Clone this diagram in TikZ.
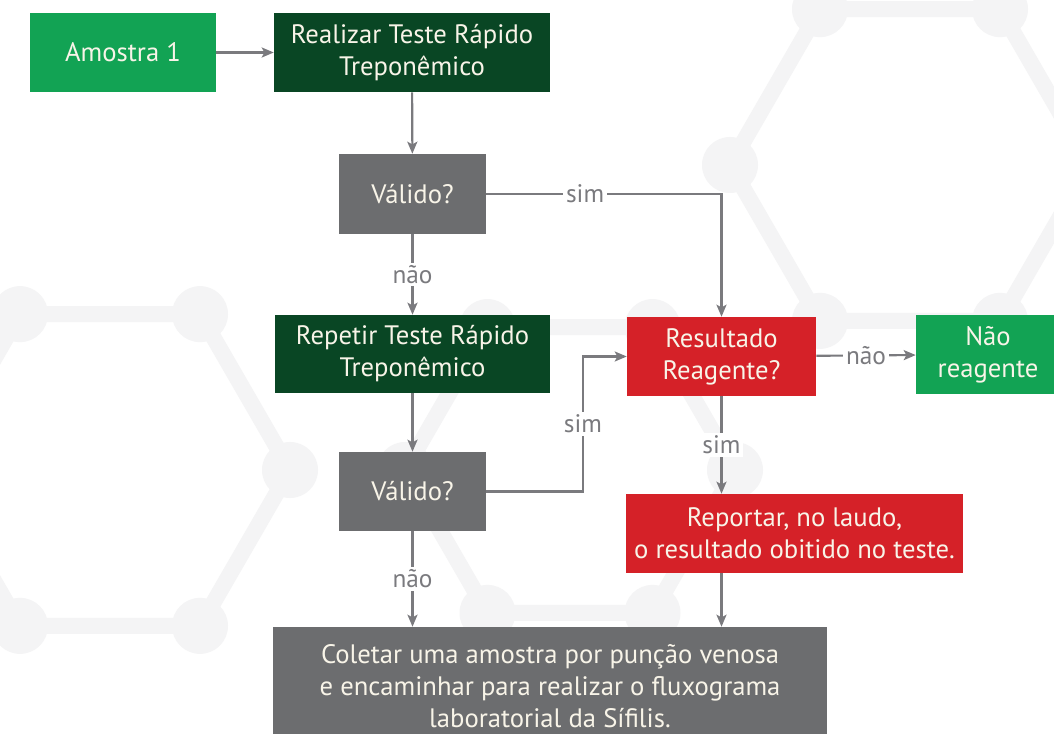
\documentclass[tikz,border=0pt]{standalone}
\usepackage{fontspec}
\setmainfont{PT Sans}
\usetikzlibrary{arrows.meta}

\definecolor{verdeclaro}{RGB}{18,163,84}
\definecolor{verdeescuro}{RGB}{9,70,36}
\definecolor{cinzacaixa}{RGB}{108,109,111}
\definecolor{vermelho}{RGB}{213,33,40}
\definecolor{cinzaseta}{RGB}{122,122,126}
\definecolor{textocaixa}{RGB}{248,244,232}
\definecolor{fundohex}{RGB}{244,244,245}

\tikzset{
  caixa/.style={inner sep=0pt, align=center, text=textocaixa,
    font=\fontsize{20}{24}\selectfont},
  rotulo/.style={fill=white, text=cinzaseta, inner sep=2pt,
    font=\fontsize{19}{22}\selectfont},
  seta/.style={draw=cinzaseta, line width=1.6pt,
    -{Stealth[length=9pt, width=7.5pt, inset=2pt]}},
  hexlinha/.style={draw=fundohex, line width=12pt, line join=round}
}

\begin{document}
\begin{tikzpicture}[x=0.75pt, y=-0.75pt]
    \useasboundingbox (0,0) rectangle (1054,734);
    \clip (0,0) rectangle (1054,734);
    \fill[white] (0,0) rectangle (1054,734);

    % fundo
    \foreach \cx/\cy/\r in {910/165/180, 570/470/165, 110/470/180} {
        \draw[hexlinha] ([shift={(\cx,\cy)}]0:\r) -- ([shift={(\cx,\cy)}]60:\r)
            -- ([shift={(\cx,\cy)}]120:\r) -- ([shift={(\cx,\cy)}]180:\r)
            -- ([shift={(\cx,\cy)}]240:\r) -- ([shift={(\cx,\cy)}]300:\r) -- cycle;
        \foreach \a in {0,60,...,300}
            \fill[fundohex] ([shift={(\cx,\cy)}]\a:\r) circle (28);
    }

    \node[caixa, fill=verdeclaro, minimum width=139.5pt, minimum height=59.25pt] (amostra) at (123,52.5) {Amostra 1};
    \node[caixa, fill=verdeescuro, minimum width=207pt, minimum height=59.25pt] (realizar) at (412,52.5) {Realizar Teste Rápido\\Treponêmico};
    \node[caixa, fill=cinzacaixa, minimum width=110.25pt, minimum height=60pt] (valido1) at (412.5,194) {Válido?};
    \node[caixa, fill=verdeescuro, minimum width=206pt, minimum height=58.5pt] (repetir) at (412.5,354) {Repetir Teste Rápido\\Treponêmico};
    \node[caixa, fill=vermelho, minimum width=141.75pt, minimum height=59.25pt] (resultado) at (721.5,356.5) {Resultado\\Reagente?};
    \node[caixa, fill=verdeclaro, minimum width=108pt, minimum height=59.25pt] (naoreag) at (988,354.5) {Não\\reagente};
    \node[caixa, fill=cinzacaixa, minimum width=110.25pt, minimum height=59.25pt] (valido2) at (412.5,491.5) {Válido?};
    \node[caixa, fill=vermelho, minimum width=252.75pt, minimum height=59.25pt] (reportar) at (794.5,533.5) {Reportar, no laudo,\\o resultado obitido no teste.};
    \node[caixa, fill=cinzacaixa, minimum width=415.5pt, minimum height=88.5pt] (coletar) at (550,686) {Coletar uma amostra por punção venosa\\e encaminhar para realizar o fluxograma\\laboratorial da Sífilis.};

    \coordinate (dobra) at (583,424);

    \draw[seta] (amostra) -- (realizar);
    \draw[seta] (realizar) -- (valido1);
    \draw[seta] (valido1.east) -| node[rotulo, pos=0.21] {sim} (resultado.north);
    \draw[seta] (valido1) -- node[rotulo] {não} (repetir);
    \draw[seta] (repetir) -- (valido2);
    \draw[seta] (valido2.east) -| (dobra) node[rotulo] {sim} |- (resultado.west);
    \draw[seta] (resultado) -- node[rotulo] {não} (naoreag);
    \draw[seta] (resultado.south) -- node[rotulo] {sim} (resultado.south |- reportar.north);
    \draw[seta] (resultado.south |- reportar.south) -- (resultado.south |- coletar.north);
    \draw[seta] (valido2) -- node[rotulo] {não} (valido2.south |- coletar.north);

\end{tikzpicture}
\end{document}
